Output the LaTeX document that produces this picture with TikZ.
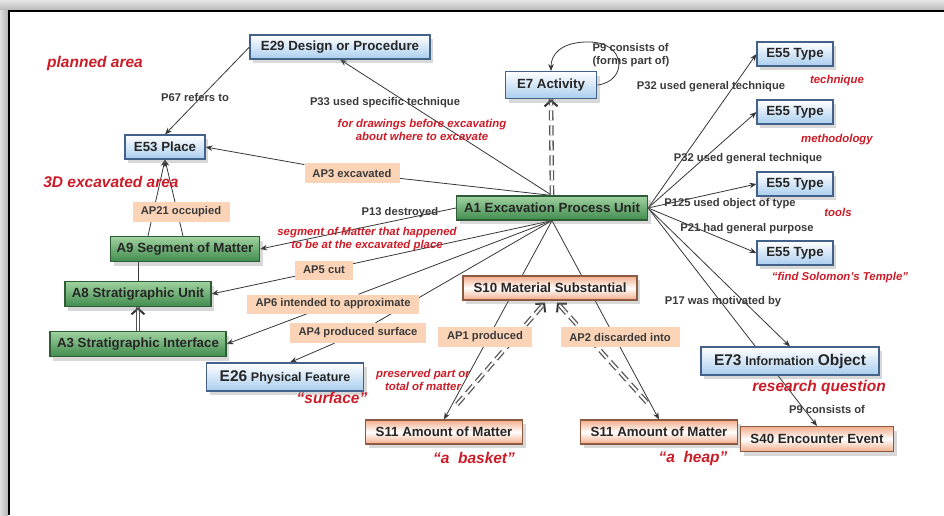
\documentclass[tikz,border=0pt]{standalone}
\usepackage{fontspec}
\setmainfont{Liberation Sans}
\usetikzlibrary{arrows.meta,shadows,calc}

\definecolor{boxblue}{RGB}{169,205,238}
\definecolor{rimblue}{RGB}{67,98,138}
\definecolor{boxgreen}{RGB}{64,140,78}
\definecolor{lightgreen}{RGB}{160,210,160}
\definecolor{rimgreen}{RGB}{45,92,55}
\definecolor{salmon}{RGB}{243,172,138}
\definecolor{rimsalmon}{RGB}{140,90,64}
\definecolor{peach}{RGB}{251,212,184}
\definecolor{notered}{RGB}{204,28,40}
\definecolor{linegray}{RGB}{55,55,55}
\definecolor{textgray}{RGB}{58,58,58}

\pgfdeclarelayer{back}
\pgfdeclarelayer{edges}
\pgfsetlayers{back,edges,main}

\newcommand{\boxfont}{\fontsize{13.3}{15}\selectfont\bfseries}
\newcommand{\propfont}{\fontsize{11.2}{13}\selectfont\bfseries}
\newcommand{\notefont}{\fontsize{11.4}{13.5}\selectfont\bfseries\itshape}
\newcommand{\bignotefont}{\fontsize{15.5}{17}\selectfont\bfseries\itshape}

\tikzset{
  box/.style={draw, line width=1.1pt, inner xsep=4pt, inner ysep=2pt,
    minimum height=24pt, font=\boxfont, text=black!85,
    drop shadow={opacity=0.3, shadow xshift=3pt, shadow yshift=-4pt}},
  eclass/.style={box, draw=rimblue, top color=white, bottom color=boxblue},
  aclass/.style={box, draw=rimgreen, top color=lightgreen, bottom color=boxgreen},
  sclass/.style={box, draw=rimsalmon, top color=salmon, bottom color=salmon, middle color=white},
  aprop/.style={fill=peach, inner xsep=4pt, minimum height=20pt, font=\propfont, text=textgray},
  prop/.style={font=\propfont, text=textgray, inner sep=1pt},
  note/.style={font=\notefont, text=notered, align=center, inner sep=1pt},
  bignote/.style={font=\bignotefont, text=notered, inner sep=1pt},
  rel/.style={draw=linegray, line width=0.8pt, -{Stealth[length=7pt,width=5.5pt]}},
  plainrel/.style={draw=linegray, line width=0.8pt},
  isa/.style={draw=linegray!85, line width=1.3pt, double, double distance=2pt},
  isadash/.style={isa, dash pattern=on 10pt off 5pt},
  isatip/.style={draw=linegray, line width=2pt, -{Straight Barb[length=6pt,width=13pt]}},
}

\begin{document}
\begin{tikzpicture}[x=1pt, y=-1pt]
  \useasboundingbox (0,0) rectangle (944,515);

  % classes
  \node[eclass, minimum width=180pt] (e29) at (340,47) {E29 Design or Procedure};
  \node[eclass, minimum width=80pt] (e53) at (165,147) {E53 Place};
  \node[eclass, minimum width=91pt, minimum height=27pt] (e7) at (551,85) {E7 Activity};
  \node[aclass, minimum width=191pt] (a1) at (552,208) {A1 Excavation Process Unit};

  \node[eclass, minimum width=76pt] (e55a) at (795,54) {E55 Type};
  \node[eclass, minimum width=76pt] (e55b) at (795,112) {E55 Type};
  \node[eclass, minimum width=76pt] (e55c) at (795,184) {E55 Type};
  \node[eclass, minimum width=76pt] (e55d) at (795,253) {E55 Type};

  \node[aclass, minimum width=149pt, minimum height=25pt] (a9) at (185,249) {A9 Segment of Matter};
  \node[aclass, minimum width=146pt, minimum height=25pt] (a8) at (138,294) {A8 Stratigraphic Unit};
  \node[aclass, minimum width=176pt, minimum height=25pt] (a3) at (138,344) {A3 Stratigraphic Interface};
  \node[eclass, minimum width=157pt, minimum height=28pt] (e26) at (285,377)
    {{\fontsize{15.5}{17}\selectfont E26} {\fontsize{12.5}{14}\selectfont Physical Feature}};

  \node[sclass, minimum width=174pt] (s10) at (550,288) {S10 Material Substantial};
  \node[sclass, minimum width=157pt] (s11a) at (444,432) {S11 Amount of Matter};
  \node[sclass, minimum width=157pt] (s11b) at (659,432) {S11 Amount of Matter};
  \node[eclass, minimum width=178pt, minimum height=28pt] (e73) at (790,361)
    {{\fontsize{15.5}{17}\selectfont E73} {\fontsize{12.5}{14}\selectfont Information}
     {\fontsize{15.5}{17}\selectfont Object}};
  \node[sclass, minimum width=153pt, minimum height=25pt] (s40) at (817,439) {S40 Encounter Event};

  % AP properties
  \node[aprop, minimum width=95pt] (ap3) at (352,173) {AP3 excavated};
  \node[aprop, minimum width=97pt] (ap21) at (181,212) {AP21 occupied};
  \node[aprop, minimum width=58pt, minimum height=19pt] (ap5) at (324,270) {AP5 cut};
  \node[aprop, minimum width=172pt, minimum height=19pt] (ap6) at (333,304) {AP6 intended to approximate};
  \node[aprop, minimum width=136pt] (ap4) at (358,333) {AP4 produced surface};
  \node[aprop, minimum width=94pt] (ap1) at (485,337) {AP1 produced};
  \node[aprop, minimum width=119pt] (ap2) at (620,337) {AP2 discarded into};

  % CRM properties
  \node[prop] (p67) at (195,97) {P67 refers to};
  \node[prop] (p33) at (385,103) {P33 used specific technique};
  \node[prop] (p13) at (400,213) {P13 destroyed};
  \node[prop, align=left] (p9a) at (631,55) {P9 consists of\\(forms part of)};
  \node[prop] (p32a) at (711,87) {P32 used general technique};
  \node[prop] (p32b) at (748,159) {P32 used general technique};
  \node[prop] (p125) at (730,204) {P125 used object of type};
  \node[prop] (p21) at (747,229) {P21 had general purpose};
  \node[prop] (p17) at (723,302) {P17 was motivated by};
  \node[prop] (p9b) at (827,409) {P9 consists of};

  % notes
  \node[bignote] (planned) at (95,63) {planned area};
  \node[bignote] (excav) at (111,182) {3D excavated area};
  \node[note] (drawings) at (422,130) {for drawings before excavating\\about where to excavate};
  \node[note] (segment) at (367,239) {segment of Matter that happened\\to be at the excavated place};
  \node[note] (technique) at (837,81) {technique};
  \node[note] (method) at (837,140) {methodology};
  \node[note] (tools) at (838,212) {tools};
  \node[note] (solomon) at (840,278) {“find Solomon’s Temple”};
  \node[note] (preserved) at (423,380) {preserved part or\\total of matter};
  \node[bignote] (surface) at (332,398) {“surface”};
  \node[bignote] (basket) at (474,458) {“a~ basket”};
  \node[bignote] (heap) at (693,458) {“a~ heap”};
  \node[bignote] (question) at (819,387) {research question};

  % free ends of the dashed links
  \coordinate (footl) at ([xshift=13pt,yshift=15pt]s11a.north);
  \coordinate (footr) at ([xshift=-12pt,yshift=17pt]s11b.north);
  \coordinate (headl) at ([xshift=-5pt,yshift=-2pt]s10.south);
  \coordinate (headr) at ([xshift=7pt,yshift=-2pt]s10.south);

  \begin{pgfonlayer}{edges}
    \draw[rel] (e29.west) -- (e53.north);
    \draw[rel] (a1.north) -- (e29.south);
    \draw[rel] (a1.north) -- (ap3) -- (e53.east);
    \draw[rel] (a1.west) -- (a9.east);
    \draw[rel] (a1.south) -- (ap5) -- (a8.east);
    \draw[rel] (a1.south) -- (ap6) -- (a3.east);
    \draw[rel] (a1.south) -- (ap4) -- ([xshift=5pt]e26.north);
    \draw[rel] (a1.south) -- (s11a.north);
    \draw[rel] (a1.south) -- (s11b.north);
    \draw[rel] (a1.east) -- (e55a.west);
    \draw[rel] (a1.east) -- (e55b.west);
    \draw[rel] (a1.east) -- (e55c.west);
    \draw[rel] (a1.east) -- (e55d.west);
    \draw[rel] (a1.east) -- (e73.north);
    \draw[rel] (a1.east) -- (s40.north);
    \draw[plainrel] (a8.north) -- (a8.north |- a9.south);
    \draw[rel] ([xshift=-37pt]a9.north) -- (e53.south);
    \draw[rel] ([xshift=-2pt]a9.north) -- (e53.south);
    \draw[rel] (e7.east)
      .. controls (628,82) and (628,40) .. (585,42)
      .. controls (560,43) and (551,55) .. (e7.north);

    \draw[isa] (a3.north) -- (a8.south);
    \draw[isatip] ($(a8.south)!2pt!(a3.north)$) -- (a8.south);
    \draw[isadash] (a1.north) -- (e7.south);
    \draw[isatip] ($(e7.south)!2pt!(a1.north)$) -- (e7.south);
    \draw[isadash] (footl) -- (headl);
    \draw[isatip] ($(headl)!2pt!(footl)$) -- (headl);
    \draw[isadash] (footr) -- (headr);
    \draw[isatip] ($(headr)!2pt!(footr)$) -- (headr);
  \end{pgfonlayer}

  \begin{pgfonlayer}{back}
    \fill[white] (0,0) rectangle (944,515);
    \shade[top color=gray!20, bottom color=gray!55] (0,0) rectangle (944,10);
    \shade[left color=gray!25, right color=gray!60] (0,10) rectangle (8,515);
    \draw[line width=2pt] (9,515) -- (9,11) -- (944,11);
  \end{pgfonlayer}
\end{tikzpicture}
\end{document}
